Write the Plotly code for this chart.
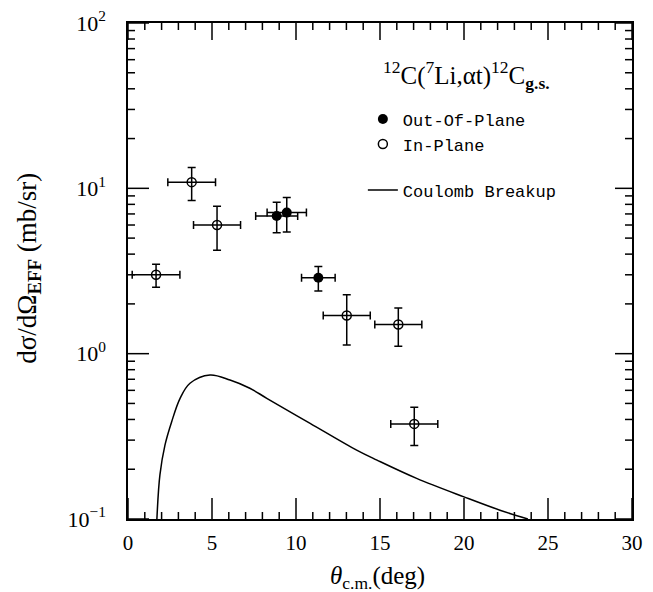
import math
import plotly.graph_objects as go

# In-plane (open circles)
in_x = [1.67, 3.79, 5.30, 13.02, 16.09, 17.04]
in_y = [3.0, 10.9, 6.0, 1.70, 1.50, 0.376]
in_yerr = [0.48, 2.45, 1.78, 0.57, 0.39, 0.098]
in_xerr = [1.42, 1.42, 1.40, 1.40, 1.40, 1.40]

# Out-of-plane (filled circles)
out_x = [8.85, 9.45, 11.33]
out_y = [6.81, 7.13, 2.88]
out_yerr = [1.43, 1.68, 0.49]
out_xerr = [1.25, 1.17, 1.00]

# Coulomb breakup calculation
cb_x = [1.72, 1.90, 2.20, 2.60, 3.10, 3.69, 4.88, 6.07, 7.25, 8.26, 10.84,
        13.61, 14.82, 17.18, 20.0, 22.14, 23.8]
cb_y = [0.100, 0.185, 0.28, 0.388, 0.537, 0.662, 0.743, 0.693, 0.618, 0.537,
        0.379, 0.261, 0.227, 0.176, 0.136, 0.113, 0.100]

y_major = [0.1, 1, 10, 100]
y_major_text = ["10<sup>\u22121</sup>", "10<sup>0</sup>", "10<sup>1</sup>", "10<sup>2</sup>"]
y_minor = [k * 10 ** e for e in (-1, 0, 1) for k in range(2, 10)]
x_major = [0, 5, 10, 15, 20, 25, 30]
x_minor = [v for v in range(1, 30) if v % 5]

X_RANGE = [0, 30]
Y_LOG_RANGE = [-1, 2]

SERIF = "Liberation Serif"
MONO = "Liberation Mono"

W, H = 653, 592
M = dict(l=128, r=21, t=23, b=73)
PW = W - M["l"] - M["r"]
PH = H - M["t"] - M["b"]

fig = go.Figure()

fig.add_trace(go.Scatter(
    x=out_x, y=out_y, mode="markers", name="Out-Of-Plane",
    legendgroup="data",
    marker=dict(symbol="circle", size=10, color="black"),
    error_y=dict(type="data", array=out_yerr, color="black", thickness=1.5, width=4),
    error_x=dict(type="data", array=out_xerr, color="black", thickness=1.5, width=4),
))
fig.add_trace(go.Scatter(
    x=in_x, y=in_y, mode="markers", name="In-Plane",
    legendgroup="data",
    marker=dict(symbol="circle-open", size=9, color="black", line=dict(width=1.5, color="black")),
    error_y=dict(type="data", array=in_yerr, color="black", thickness=1.5, width=4),
    error_x=dict(type="data", array=in_xerr, color="black", thickness=1.5, width=4),
))
fig.add_trace(go.Scatter(
    x=cb_x, y=cb_y, mode="lines", name="Coulomb Breakup",
    legendgroup="theory",
    line=dict(color="black", width=1.5, shape="spline"),
))

fig.update_layout(
    template="none",
    width=W, height=H,
    margin=M,
    paper_bgcolor="white", plot_bgcolor="white",
    font=dict(family=SERIF, color="black", size=19),
    showlegend=True,
    legend=dict(
        x=0.466, y=0.842, xanchor="left", yanchor="top",
        font=dict(family=MONO, size=17, color="black"),
        bgcolor="rgba(0,0,0,0)", traceorder="grouped", tracegroupgap=21,
        itemsizing="trace",
    ),
    xaxis=dict(
        range=X_RANGE, tickvals=x_major, ticktext=[str(v) for v in x_major],
        showline=True, linecolor="black", linewidth=1.5, mirror=True,
        ticks="", showgrid=False, zeroline=False,
        tickfont=dict(family=SERIF, size=21), ticklabelstandoff=4,
    ),
    yaxis=dict(
        type="log", range=Y_LOG_RANGE, tickvals=y_major, ticktext=y_major_text,
        showline=True, linecolor="black", linewidth=1.5, mirror=True,
        ticks="", showgrid=False, zeroline=False,
        tickfont=dict(family=SERIF, size=22), ticklabelstandoff=16,
    ),
)

# inward-pointing tick marks (all four sides), built from the tick value lists
TICK = dict(color="black", width=1.5)


def add_xticks(values, length_px, top_len_px):
    lb = length_px / PH
    lt = top_len_px / PH
    for v in values:
        fig.add_shape(type="line", xref="x", yref="paper", x0=v, x1=v, y0=0, y1=lb, line=TICK)
        fig.add_shape(type="line", xref="x", yref="paper", x0=v, x1=v, y0=1, y1=1 - lt, line=TICK)


def add_yticks(values, length_px, right_len_px):
    ll = length_px / PW
    lr = right_len_px / PW
    for v in values:
        f = (math.log10(v) - Y_LOG_RANGE[0]) / (Y_LOG_RANGE[1] - Y_LOG_RANGE[0])
        fig.add_shape(type="line", xref="paper", yref="paper", x0=0, x1=ll, y0=f, y1=f, line=TICK)
        fig.add_shape(type="line", xref="paper", yref="paper", x0=1, x1=1 - lr, y0=f, y1=f, line=TICK)


add_xticks(x_major, 21, 17)
add_xticks(x_minor, 7, 7)
add_yticks(y_major, 21, 17)
add_yticks(y_minor, 7, 7)

fig.add_annotation(
    xref="paper", yref="paper", x=0.671, y=0.895, xanchor="center", yanchor="middle",
    text="<sup>12</sup>C(<sup>7</sup>Li,\u03b1t)<sup>12</sup>C<sub><b>g.s.</b></sub>",
    showarrow=False, font=dict(family=SERIF, size=25, color="black"),
)
fig.add_annotation(
    xref="paper", yref="paper", x=0.496, y=-0.117, xanchor="center", yanchor="middle",
    text="<i>\u03b8</i><sub>c.m.</sub>(deg)",
    showarrow=False, font=dict(family=SERIF, size=25, color="black"),
)
fig.add_annotation(
    xref="paper", yref="paper", x=-0.198, y=0.505, xanchor="center", yanchor="middle",
    text="d\u03c3/d\u03a9<sub><b>EFF</b></sub> (mb/sr)", textangle=-90,
    showarrow=False, font=dict(family=SERIF, size=27, color="black"),
)

fig.write_html("out.html")
